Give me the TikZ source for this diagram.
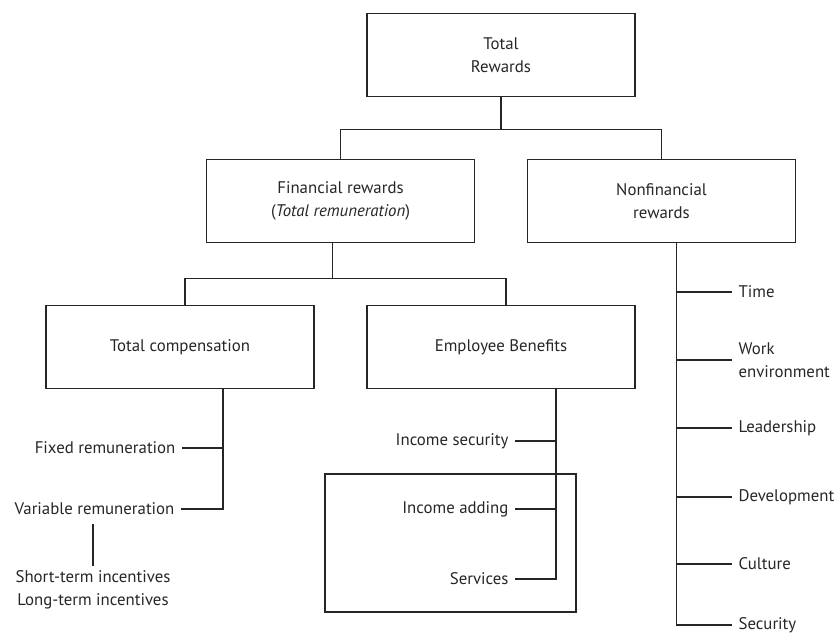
\documentclass[tikz,border=0pt]{standalone}
\usepackage{fontspec}
\setmainfont{PT Sans}
\usetikzlibrary{trees}

\begin{document}
\begin{tikzpicture}[x=1pt, y=1pt, font=\fontsize{16.8}{23}\selectfont, line width=1.2pt, draw=black!85,
    box/.style = {shape=rectangle, draw, align=center, minimum width=268pt, minimum height=83pt, text=black!85},
    item/.style = {inner sep=6pt, align=left, text=black!85},
    level 1/.style = {sibling distance=321pt, level distance=146pt, edge from parent path={(\tikzparentnode.south) -- +(0,-32pt) -| (\tikzchildnode.north)}},
    level 2/.style = {sibling distance=321pt, level distance=146pt, edge from parent path={([xshift=-8pt]\tikzparentnode.south) -- +(0,-35pt) -| ([xshift=5pt]\tikzchildnode.north)}}]
    \useasboundingbox (0,0) rectangle (836,-638);
    \node[box] (total) at (501,-55) {Total\\Rewards}
        child{ node[box] (fin) {Financial rewards\\(\textit{Total remuneration})}
            child{ node[box] (comp) {Total compensation}}
            child{ node[box] (ben) {Employee Benefits}}}
        child{ node[box] (nonfin) {Nonfinancial\\rewards}};
    \coordinate (ct) at ([xshift=43pt]comp.south);
    \coordinate (bt) at ([xshift=55pt]ben.south);
    \coordinate (nt) at ([xshift=15pt]nonfin.south);
    \node[item, anchor=east] (fixed) at (182,-448) {Fixed remuneration};
    \node[item, anchor=east] (var) at (181,-509) {Variable remuneration};
    \node[item, align=center, inner sep=4pt] (inc) at (93,-590) {Short-term incentives\\Long-term incentives};
    \draw (ct) |- (var.east);
    \draw (fixed.east) -- (fixed.east -| ct);
    \draw ([yshift=-2pt]var.south -| inc.north) -- (inc.north);
    \node[item, anchor=east] (secur) at (515,-441) {Income security};
    \node[item, anchor=east] (adding) at (515,-509) {Income adding};
    \node[item, anchor=east] (serv) at (515,-579) {Services};
    \draw (bt) |- (serv.east);
    \foreach \nm in {secur, adding}
        \draw (\nm.east) -- (\nm.east -| bt);
    \draw[line width=2.3pt] (325,-474) rectangle (576,-612);
    \foreach \nm/\yy/\lab in {time/292/Time, work/360/{Work\\environment}, lead/428/Leadership, devel/497/Development, cult/564/Culture, secu/625/Security}
        \node[item, anchor=west] (\nm) at (732,-\yy) {\lab};
    \draw (nt) |- (secu.west);
    \foreach \nm in {time, work, lead, devel, cult}
        \draw (\nm.west) -- (\nm.west -| nt);
\end{tikzpicture}
\end{document}
